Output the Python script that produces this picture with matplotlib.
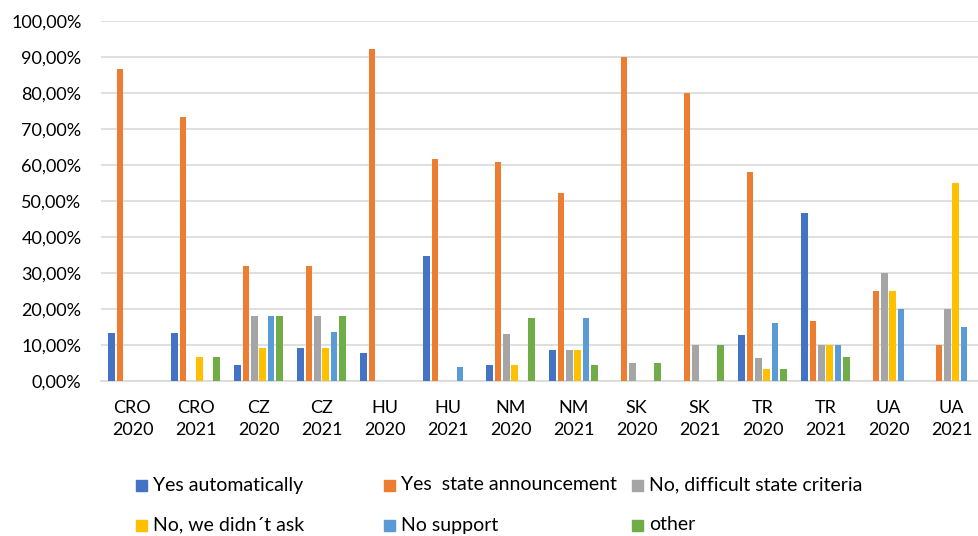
import matplotlib.pyplot as plt
import numpy as np
from matplotlib.patches import Rectangle
from matplotlib.ticker import FuncFormatter

plt.rcParams['font.family'] = ['Lato', 'DejaVu Sans']

countries = ['CRO', 'CRO', 'CZ', 'CZ', 'HU', 'HU', 'NM', 'NM', 'SK', 'SK', 'TR', 'TR', 'UA', 'UA']
years = ['2020', '2021'] * 7

# share of answers per group, in percent
yes_auto = [13.33, 13.33, 4.55, 9.09, 7.69, 34.62, 4.35, 8.70, 0, 0, 12.90, 46.67, 0, 0]
yes_state = [86.67, 73.33, 31.82, 31.82, 92.31, 61.54, 60.87, 52.17, 90.00, 80.00, 58.06, 16.67, 25.00, 10.00]
no_criteria = [0, 0, 18.18, 18.18, 0, 0, 13.04, 8.70, 5.00, 10.00, 6.45, 10.00, 30.00, 20.00]
no_ask = [0, 6.67, 9.09, 9.09, 0, 0, 4.35, 8.70, 0, 0, 3.23, 10.00, 25.00, 55.00]
no_support = [0, 0, 18.18, 13.64, 0, 3.85, 0, 17.39, 0, 0, 16.13, 10.00, 20.00, 15.00]
other = [0, 6.67, 18.18, 18.18, 0, 0, 17.39, 4.35, 5.00, 10.00, 3.23, 6.67, 0, 0]

series = [yes_auto, yes_state, no_criteria, no_ask, no_support, other]
names = ['Yes automatically', 'Yes  state announcement', 'No, difficult state criteria',
         'No, we didn\u00b4t ask', 'No support', 'other']
colors = ['#4472C4', '#ED7D31', '#A5A5A5', '#FFC000', '#5B9BD5', '#70AD47']

fig = plt.figure(figsize=(9.79, 5.36), dpi=100)
ax = fig.add_axes([101 / 979, 155 / 536, 882 / 979, 360 / 536])

x = np.arange(len(countries))
slot = 0.132
width = 0.106
for i, (vals, col) in enumerate(zip(series, colors)):
    ax.bar(x + (i - 2.5) * slot, vals, width, color=col, zorder=3)

ax.set_xlim(-0.5, len(countries) - 0.5)
ax.set_ylim(0, 100)
ax.set_yticks(np.arange(0, 101, 10))
ax.yaxis.set_major_formatter(FuncFormatter(lambda v, p: f'{v:.2f}'.replace('.', ',') + '%'))
ax.set_xticks(x)
ax.set_xticklabels([f'{c}\n{y}' for c, y in zip(countries, years)], linespacing=1.45)

ax.grid(axis='y', color='#D9D9D9', linewidth=1.2, zorder=0)
for s in ['top', 'right', 'left']:
    ax.spines[s].set_visible(False)
ax.spines['bottom'].set_color('#D9D9D9')
ax.spines['bottom'].set_linewidth(1.2)
ax.tick_params(axis='both', length=0, labelsize=13, colors='#000000')
ax.tick_params(axis='y', pad=14)
ax.tick_params(axis='x', pad=14)

# legend laid out in two rows of three entries
col_x = [136, 384, 632]
row_y = [485, 525]
for i, (name, col) in enumerate(zip(names, colors)):
    px = col_x[i % 3]
    py = row_y[i // 3]
    fig.add_artist(Rectangle((px / 979, (536 - py - 5.5) / 536), 11 / 979, 11 / 536,
                             transform=fig.transFigure, color=col))
    fig.text((px + 17) / 979, (536 - py) / 536, name, fontsize=14, va='center', ha='left')

fig.savefig('out.png', dpi=100)
